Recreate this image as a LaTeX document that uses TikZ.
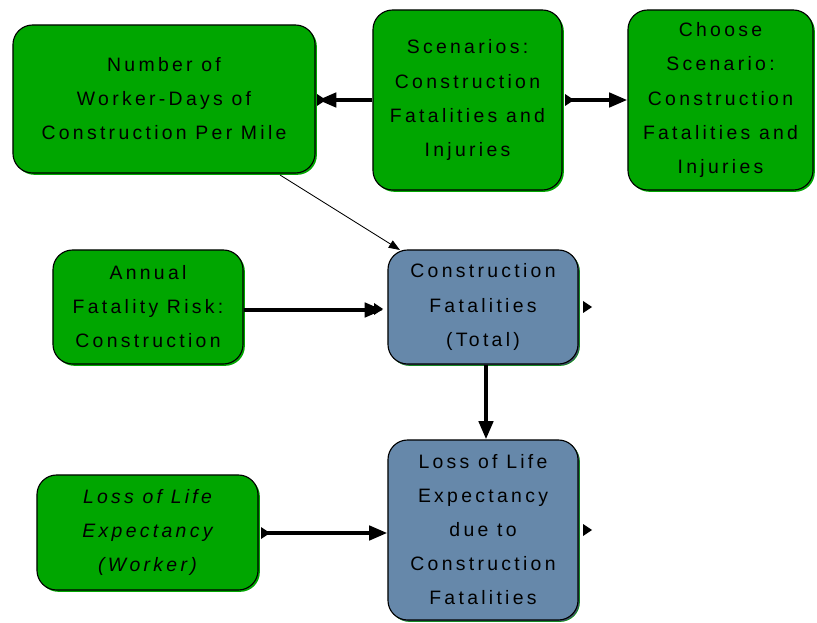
\documentclass[tikz,border=0pt]{standalone}
\usepackage{fontspec}
\setmainfont[LetterSpace=17]{Liberation Sans}
\usepackage{tikz}
\usetikzlibrary{arrows.meta,shadows}
\definecolor{boxgreen}{RGB}{0,166,0}
\definecolor{boxblue}{RGB}{102,136,170}
\def\knob(#1,#2){\fill[black] (#1-4,#2-6) -- (#1+5,#2) -- (#1-4,#2+6) -- cycle;}
\tikzset{
	gbox/.style={draw=black, line width=0.8pt, fill=boxgreen, rounded corners=14pt, align=center,
		general shadow={fill=boxgreen, shadow xshift=1.3pt, shadow yshift=-1.3pt},
		font=\fontsize{13.8}{24.2}\selectfont, inner sep=0pt},
	bbox/.style={gbox, fill=boxblue, general shadow={fill=boxblue!60!black, shadow xshift=1pt, shadow yshift=-1pt}},
	thickarr/.style={line width=3pt, -{Triangle[length=13pt,width=10pt]}},
	thinarr/.style={line width=0.6pt, -{Triangle[length=8pt,width=6pt]}}
}
\begin{document}
\begin{tikzpicture}[x=0.025cm, y=-0.025cm]
			%%%%% START %%%%%
			\useasboundingbox (0,0) rectangle (817,623);
			
			\node[gbox, minimum width=7.55cm, minimum height=3.7cm] (days) at (164,99)
				{Number of\\Worker-Days of\\Construction Per Mile};
			\node[gbox, minimum width=4.725cm, minimum height=4.5cm] (scen) at (467.5,100)
				{Scenarios:\\Construction\\Fatalities and\\Injuries};
			\node[gbox, minimum width=4.625cm, minimum height=4.5cm] (choose) at (720.5,100)
				{Choose\\Scenario:\\Construction\\Fatalities and\\Injuries};
			
			\node[gbox, minimum width=4.75cm, minimum height=2.85cm] (risk) at (148,307)
				{Annual\\Fatality Risk:\\Construction};
			\node[bbox, minimum width=4.75cm, minimum height=2.85cm] (total) at (483,307)
				{Construction\\Fatalities\\(Total)};
			
			\node[gbox, minimum width=5.525cm, minimum height=2.875cm] (worker) at (147.5,532.5)
				{\itshape Loss of Life\\\itshape Expectancy\\\itshape (Worker)};
			\node[bbox, minimum width=4.75cm, minimum height=4.5cm] (lle) at (483,530)
				{Loss of Life\\Expectancy\\due to\\Construction\\Fatalities};
			
			%% little output marks
			\knob(321,100)
			\knob(569,100)
			\knob(378,309)
			\knob(587,307)
			\knob(265,533)
			\knob(587,530)
			
			\coordinate (daysin) at (318,100);
			\coordinate (totalin) at (383,310);
			
			\draw[thickarr] (scen.west) -- (daysin);
			\draw[thickarr] (scen.east |- 0,100) ++(3,0) -- (choose.west);
			\draw[thinarr] (280,175) -- (400,250);
			\draw[thickarr] (risk.east |- totalin) -- (totalin);
			\draw[thickarr] (total.south -| 486,0) -- (lle.north -| 486,0);
			\draw[thickarr] (worker.east |- 0,533) ++(7,0) -- (lle.west |- 0,533);
			
			%%%%% END %%%%%
\end{tikzpicture}
\end{document}
